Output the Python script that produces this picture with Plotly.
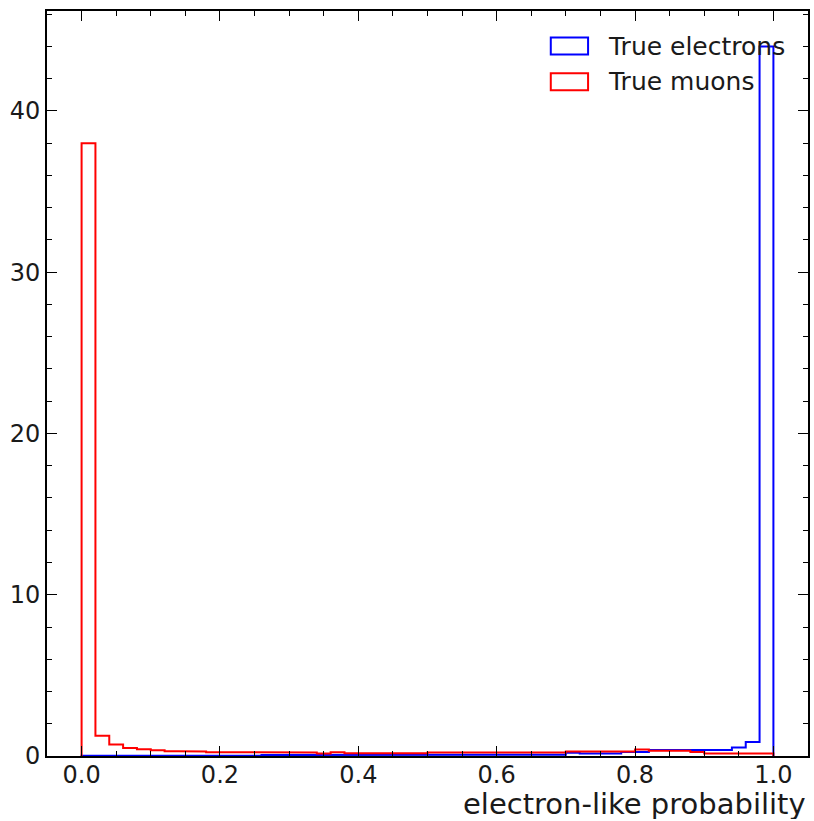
import numpy as np
import plotly.graph_objects as go

# 50 equal-width bins on [0, 1], normalised (density) heights
bin_edges = np.linspace(0.0, 1.0, 51)

electron_density = [
    0.01, 0.01, 0.01, 0.01, 0.01, 0.01, 0.01, 0.01, 0.01, 0.01,
    0.01, 0.01, 0.01, 0.06, 0.06, 0.06, 0.06, 0.06, 0.06, 0.06,
    0.06, 0.06, 0.06, 0.06, 0.06, 0.08, 0.08, 0.08, 0.08, 0.08,
    0.08, 0.08, 0.08, 0.08, 0.08, 0.20, 0.15, 0.15, 0.15, 0.25,
    0.25, 0.37, 0.37, 0.37, 0.37, 0.37, 0.37, 0.52, 0.87, 44.0,
]

muon_density = [
    38.0, 1.25, 0.72, 0.50, 0.42, 0.36, 0.30, 0.30, 0.28, 0.24,
    0.22, 0.22, 0.22, 0.22, 0.22, 0.22, 0.22, 0.15, 0.24, 0.17,
    0.17, 0.17, 0.17, 0.17, 0.17, 0.22, 0.22, 0.22, 0.22, 0.22,
    0.22, 0.22, 0.22, 0.22, 0.22, 0.28, 0.28, 0.28, 0.28, 0.28,
    0.40, 0.32, 0.32, 0.32, 0.25, 0.15, 0.15, 0.15, 0.15, 0.15,
]

series_names = ["True electrons", "True muons"]
series_colors = ["#0000ff", "#ff0000"]

x_ticks = [0.0, 0.2, 0.4, 0.6, 0.8, 1.0]
x_tick_text = ["0.0", "0.2", "0.4", "0.6", "0.8", "1.0"]
y_ticks = [0, 10, 20, 30, 40]
x_title = "electron-like probability"


def step_outline(edges, heights):
    """Outline of a step histogram, closed down to zero at both ends."""
    xs, ys = [edges[0]], [0.0]
    for i, h in enumerate(heights):
        xs += [edges[i], edges[i + 1]]
        ys += [h, h]
    xs.append(edges[-1])
    ys.append(0.0)
    return xs, ys


fig = go.Figure()
for name, color, heights in zip(series_names, series_colors,
                                [electron_density, muon_density]):
    xs, ys = step_outline(bin_edges, heights)
    fig.add_trace(go.Scatter(x=xs, y=ys, mode="lines", name=name,
                             line=dict(color=color, width=2),
                             showlegend=False, hoverinfo="skip"))

ymax = max(max(electron_density), max(muon_density)) * 1.05
font_family = "DejaVu Sans"

axis_common = dict(
    showline=True, linecolor="black", linewidth=2, mirror="allticks",
    ticks="inside", ticklen=10, tickwidth=1, tickcolor="black",
    showgrid=False, zeroline=False,
    tickfont=dict(family=font_family, size=24, color="#1a1a1a"),
)

fig.update_xaxes(range=[-0.05, 1.05], tickvals=x_ticks, ticktext=x_tick_text,
                 ticklabelstandoff=-4,
                 minor=dict(ticks="inside", dtick=0.05, ticklen=5,
                            tickcolor="black", tickwidth=1),
                 **axis_common)
fig.update_yaxes(range=[0, ymax], tickvals=y_ticks,
                 minor=dict(ticks="inside", dtick=2, ticklen=5,
                            tickcolor="black", tickwidth=1),
                 **axis_common)

# legend drawn as outlined patches with labels
legend_rows = [(0.953, series_names[0], series_colors[0]),
               (0.905, series_names[1], series_colors[1])]
for yc, label, color in legend_rows:
    fig.add_shape(type="rect", xref="paper", yref="paper",
                  x0=0.662, x1=0.711, y0=yc - 0.0115, y1=yc + 0.0115,
                  line=dict(color=color, width=2), fillcolor="rgba(0,0,0,0)")
    fig.add_annotation(xref="paper", yref="paper", x=0.735, y=yc,
                       text=label, showarrow=False, xanchor="left",
                       yanchor="middle",
                       font=dict(family=font_family, size=25, color="#1a1a1a"))

fig.add_annotation(xref="paper", yref="paper", x=1.0, y=-0.065,
                   text=x_title, showarrow=False, xanchor="right",
                   yanchor="middle", height=30, valign="middle",
                   font=dict(family=font_family, size=29, color="#1a1a1a"))

fig.update_layout(
    width=814, height=821,
    margin=dict(l=47, r=4, t=11, b=65),
    plot_bgcolor="white", paper_bgcolor="white",
    showlegend=False,
)

fig.write_html("out.html")
